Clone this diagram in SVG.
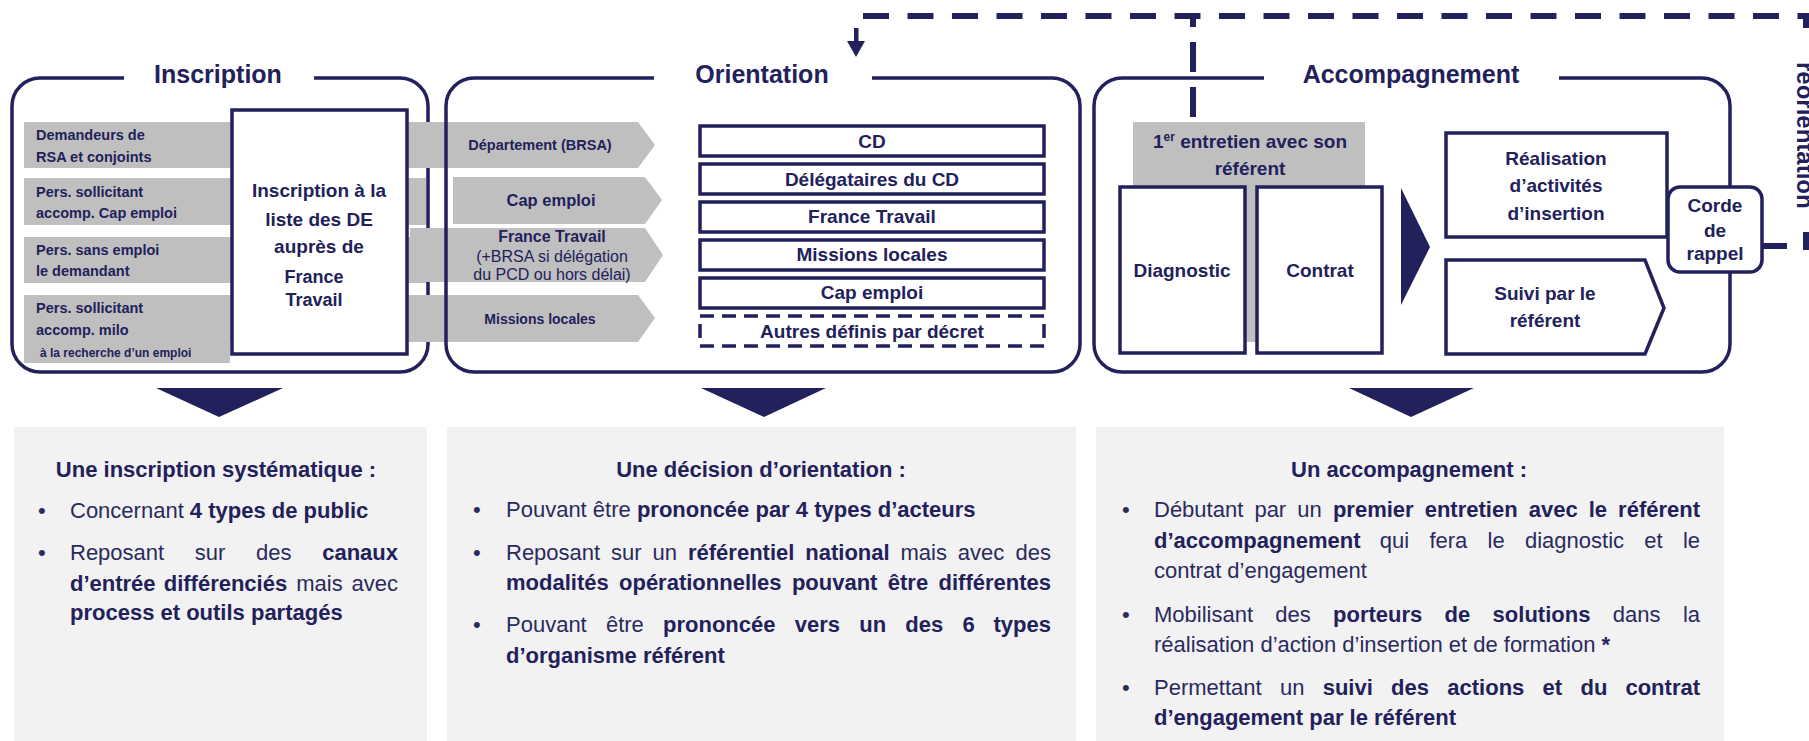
<svg xmlns="http://www.w3.org/2000/svg" width="1809" height="741" viewBox="0 0 1809 741">
<style>
.frame{fill:none;stroke:#22215b;stroke-width:3.5}
.box{fill:#fff;stroke:#22215b;stroke-width:3.5}
.gray{fill:#bfbfbf}
.panel{fill:#f2f2f2}
.nv{fill:#22215b}
.t{font-family:"Liberation Sans",Arial,sans-serif;fill:#22215b}
.b{font-weight:bold}
.ttl{font-size:25px;font-weight:bold;text-anchor:middle}
.bar{font-size:14.5px;font-weight:bold}
.lab{font-size:19px;font-weight:bold;text-anchor:middle}
.p{font-size:22px;fill:#2a2a5e}
.pb{font-size:22px;font-weight:bold}
.e{text-anchor:end}
.m{text-anchor:middle}
.dash{fill:none;stroke:#22215b;stroke-width:6}
</style>

<!-- Inscription -->
<g id="inscription">
  <rect class="frame" x="12" y="78" width="416" height="294" rx="28"/>
  <rect x="124" y="62" width="190" height="32" fill="#fff"/>
  <text class="t ttl" x="218" y="83">Inscription</text>
  <rect class="gray" x="24" y="122" width="402" height="46"/>
  <rect class="gray" x="24" y="178" width="402" height="47"/>
  <rect class="gray" x="24" y="237" width="402" height="46"/>
  <path class="gray" d="M24,295 H426 V342 H230 V363 H24 Z"/>
  <text class="t bar" x="36" y="140">Demandeurs de</text>
  <text class="t bar" x="36" y="162">RSA et conjoints</text>
  <text class="t bar" x="36" y="197">Pers. sollicitant</text>
  <text class="t bar" x="36" y="218">accomp. Cap emploi</text>
  <text class="t bar" x="36" y="255">Pers. sans emploi</text>
  <text class="t bar" x="36" y="276">le demandant</text>
  <text class="t bar" x="36" y="313">Pers. sollicitant</text>
  <text class="t bar" x="36" y="335">accomp. milo</text>
  <text class="t b" x="40" y="357" font-size="12">à la recherche d’un  emploi</text>
</g>

<!-- Orientation -->
<g id="orientation">
  <path class="gray" d="M410,122 H638 L655,145 L638,168 H410 Z"/>
  <path class="gray" d="M453,177 H645 L662,200 L645,224 H453 Z"/>
  <path class="gray" d="M410,228 H645 L663,255 L645,282 H410 Z"/>
  <path class="gray" d="M410,295 H638 L655,318 L638,342 H410 Z"/>
  <rect class="frame" x="446" y="78" width="634" height="294" rx="28"/>
  <rect x="654" y="62" width="218" height="32" fill="#fff"/>
  <text class="t ttl" x="762" y="83">Orientation</text>
  <text class="t bar m" x="540" y="150">Département (BRSA)</text>
  <text class="t b m" x="551" y="206" font-size="16.5">Cap emploi</text>
  <text class="t b m" x="552" y="242" font-size="16">France Travail</text>
  <text class="t m" x="552" y="262" font-size="16">(+BRSA si délégation</text>
  <text class="t m" x="552" y="280" font-size="16">du PCD ou hors délai)</text>
  <text class="t b m" x="540" y="324" font-size="14">Missions locales</text>
</g>

<g id="inscription-liste">
  <rect class="box" x="232" y="110" width="175" height="244"/>
  <text class="t lab" x="319" y="197">Inscription à la</text>
  <text class="t lab" x="319" y="226">liste des DE</text>
  <text class="t lab" x="319" y="253">auprès de</text>
  <text class="t b m" x="314" y="283" font-size="18">France</text>
  <text class="t b m" x="314" y="306" font-size="18">Travail</text>
</g>

<g id="org-cd"><rect class="box" x="700" y="126" width="344" height="30"/><text class="t lab" x="872" y="148">CD</text></g>
<g id="org-delegataires"><rect class="box" x="700" y="164" width="344" height="30"/><text class="t lab" x="872" y="186">Délégataires du CD</text></g>
<g id="org-ft"><rect class="box" x="700" y="202" width="344" height="30"/><text class="t lab" x="872" y="223" font-size="18">France Travail</text></g>
<g id="org-ml"><rect class="box" x="700" y="240" width="344" height="30"/><text class="t lab" x="872" y="261">Missions locales</text></g>
<g id="org-cap"><rect class="box" x="700" y="278" width="344" height="30"/><text class="t lab" x="872" y="299">Cap emploi</text></g>
<g id="org-autres"><rect class="box" x="700" y="316" width="344" height="30" stroke-dasharray="14 8"/><text class="t lab" x="872" y="338">Autres définis par décret</text></g>

<!-- Accompagnement -->
<g id="accompagnement">
  <rect class="frame" x="1094" y="78" width="636" height="294" rx="28"/>
  <rect x="1264" y="62" width="295" height="32" fill="#fff"/>
  <text class="t ttl" x="1411" y="83">Accompagnement</text>
  <rect class="gray" x="1133" y="122" width="232" height="220"/>
  <text class="t lab" x="1250" y="148">1<tspan font-size="12" dy="-7">er</tspan><tspan dy="7"> entretien avec son</tspan></text>
  <text class="t lab" x="1250" y="175">référent</text>
  <path class="nv" d="M1401,188 L1430,247 L1401,305 Z"/>
</g>
<g id="diagnostic"><rect class="box" x="1120" y="187" width="125" height="166"/><text class="t lab" x="1182" y="277">Diagnostic</text></g>
<g id="contrat"><rect class="box" x="1257" y="187" width="125" height="166"/><text class="t lab" x="1320" y="277">Contrat</text></g>
<g id="realisation"><rect class="box" x="1446" y="133" width="221" height="104"/>
  <text class="t lab" x="1556" y="165">Réalisation</text>
  <text class="t lab" x="1556" y="192">d’activités</text>
  <text class="t lab" x="1556" y="220">d’insertion</text></g>
<g id="suivi"><path class="box" d="M1446,260 H1645 L1664,308 L1645,354 H1446 Z"/>
  <text class="t lab" x="1545" y="300">Suivi par le</text>
  <text class="t lab" x="1545" y="327">référent</text></g>
<g id="corde"><rect class="box" x="1668" y="187" width="94" height="85" rx="12"/>
  <text class="t lab" x="1715" y="212" font-size="19.5">Corde</text>
  <text class="t lab" x="1715" y="237" font-size="19.5">de</text>
  <text class="t lab" x="1715" y="260" font-size="19.5">rappel</text></g>

<g id="reorientation">
  <text class="t b" font-size="24" transform="translate(1797,62) rotate(90)">réorientation</text>
</g>

<!-- connectors -->
<g id="connectors">
  <path class="dash" d="M863,16 H1809" stroke-dasharray="26 18.5"/>
  <path class="dash" d="M1806,13 V28"/>
  <path class="dash" d="M1806,232 V250"/>
  <path class="dash" d="M1762,246 H1787" stroke-width="7"/>
  <path class="dash" d="M1193,117 V13" stroke-dasharray="30 15"/>
  <rect class="nv" x="854" y="28" width="4.5" height="14"/>
  <path class="nv" d="M847,41 H865 L856,57 Z"/>
  <path class="nv" d="M156,388 H283 L219,417 Z"/>
  <path class="nv" d="M701,388 H826 L764,417 Z"/>
  <path class="nv" d="M1349,388 H1474 L1411,417 Z"/>
</g>

<!-- Panels -->
<g id="panel-inscription">
  <rect class="panel" x="14" y="427" width="413" height="314"/>
  <text class="t pb m" x="216" y="477">Une inscription systématique :</text>
  <text class="t p" x="38" y="518">•</text>
  <text class="t p" x="70" y="518">Concernant <tspan class="b" fill="#22215b">4 types de public</tspan></text>
  <text class="t p" x="38" y="560">•</text>
  <text class="t p" x="70" y="560">Reposant</text><text class="t p" x="194.8" y="560">sur</text><text class="t p" x="256" y="560">des</text><text class="t pb e" x="398" y="560">canaux</text>
  <text class="t pb" x="70" y="591">d’entrée</text><text class="t pb" x="163.7" y="591">différenciés</text><text class="t p" x="296.2" y="591">mais</text><text class="t p e" x="398" y="591">avec</text>
  <text class="t pb" x="70" y="620">process et outils partagés</text>
</g>

<g id="panel-orientation">
  <rect class="panel" x="447" y="427" width="629" height="314"/>
  <text class="t pb m" x="761" y="477">Une décision d’orientation :</text>
  <text class="t p" x="473" y="517">•</text>
  <text class="t p" x="506" y="517">Pouvant être <tspan class="b" fill="#22215b">prononcée par 4 types d’acteurs</tspan></text>
  <text class="t p" x="473" y="560">•</text>
  <text class="t p" x="506" y="560">Reposant</text><text class="t p" x="611.1" y="560">sur</text><text class="t p" x="652.6" y="560">un</text><text class="t pb" x="688" y="560">référentiel</text><text class="t pb" x="805.3" y="560">national</text><text class="t p" x="900.5" y="560">mais</text><text class="t p" x="957.8" y="560">avec</text><text class="t p e" x="1051" y="560">des</text>
  <text class="t pb" x="506" y="590">modalités</text><text class="t pb" x="619" y="590">opérationnelles</text><text class="t pb" x="791.9" y="590">pouvant</text><text class="t pb" x="887.8" y="590">être</text><text class="t pb e" x="1051" y="590">différentes</text>
  <text class="t p" x="473" y="632">•</text>
  <text class="t p" x="506" y="632">Pouvant</text><text class="t p" x="605.9" y="632">être</text><text class="t pb" x="663" y="632">prononcée</text><text class="t pb" x="794.7" y="632">vers</text><text class="t pb" x="859.2" y="632">un</text><text class="t pb" x="905.3" y="632">des</text><text class="t pb" x="962.4" y="632">6</text><text class="t pb e" x="1051" y="632">types</text>
  <text class="t pb" x="506" y="663">d’organisme référent</text>
</g>

<g id="panel-accompagnement">
  <rect class="panel" x="1096" y="427" width="628" height="314"/>
  <text class="t pb m" x="1409" y="477">Un accompagnement :</text>
  <text class="t p" x="1122" y="517">•</text>
  <text class="t p" x="1154" y="517">Débutant</text><text class="t p" x="1254.4" y="517">par</text><text class="t p" x="1297.3" y="517">un</text><text class="t pb" x="1332.9" y="517">premier</text><text class="t pb" x="1424.7" y="517">entretien</text><text class="t pb" x="1528.7" y="517">avec</text><text class="t pb" x="1588.7" y="517">le</text><text class="t pb e" x="1700" y="517">référent</text>
  <text class="t pb" x="1154" y="548">d’accompagnement</text><text class="t p" x="1379.8" y="548">qui</text><text class="t p" x="1429.4" y="548">fera</text><text class="t p" x="1487.6" y="548">le</text><text class="t p" x="1525" y="548">diagnostic</text><text class="t p" x="1644.3" y="548">et</text><text class="t p e" x="1700" y="548">le</text>
  <text class="t p" x="1154" y="578">contrat d’engagement</text>
  <text class="t p" x="1122" y="622">•</text>
  <text class="t p" x="1154" y="622">Mobilisant</text><text class="t p" x="1275.3" y="622">des</text><text class="t pb" x="1333.1" y="622">porteurs</text><text class="t pb" x="1444.6" y="622">de</text><text class="t pb" x="1492.6" y="622">solutions</text><text class="t p" x="1612.7" y="622">dans</text><text class="t p e" x="1700" y="622">la</text>
  <text class="t p" x="1154" y="652">réalisation d’action d’insertion et de formation <tspan class="b" fill="#22215b">*</tspan></text>
  <text class="t p" x="1122" y="695">•</text>
  <text class="t p" x="1154" y="695">Permettant</text><text class="t p" x="1279.9" y="695">un</text><text class="t pb" x="1322.7" y="695">suivi</text><text class="t pb" x="1391.1" y="695">des</text><text class="t pb" x="1447.3" y="695">actions</text><text class="t pb" x="1542.6" y="695">et</text><text class="t pb" x="1580.5" y="695">du</text><text class="t pb e" x="1700" y="695">contrat</text>
  <text class="t pb" x="1154" y="725">d’engagement par le référent</text>
</g>
</svg>
